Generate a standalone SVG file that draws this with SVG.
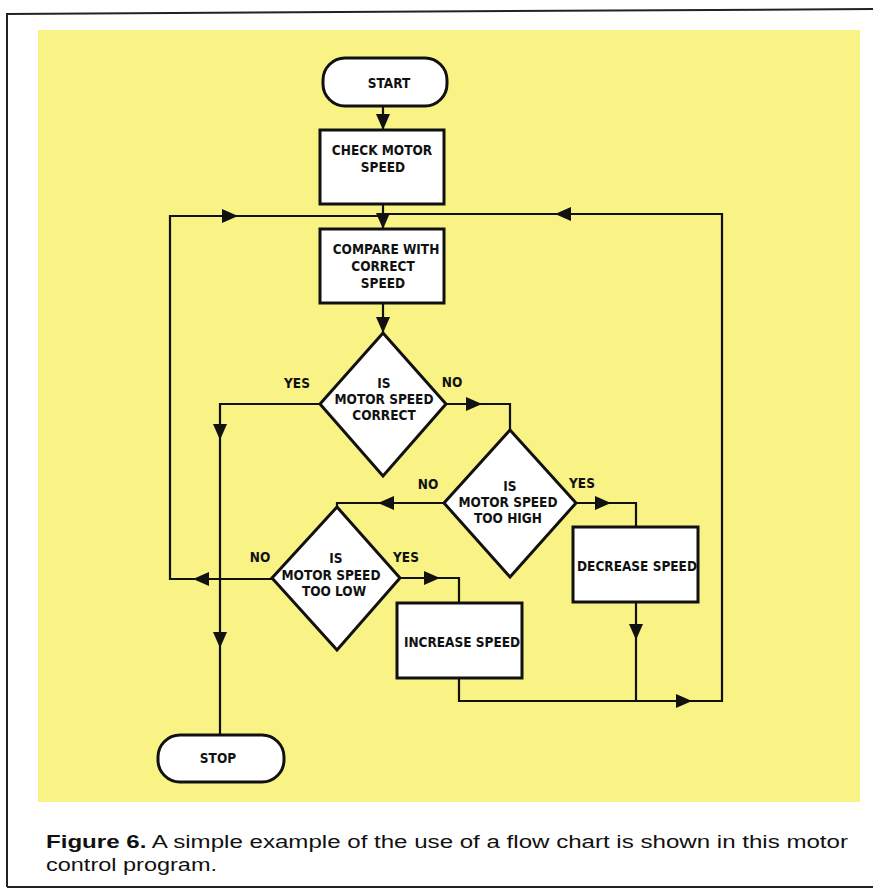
<svg xmlns="http://www.w3.org/2000/svg" xmlns:xlink="http://www.w3.org/1999/xlink" width="873" height="892" viewBox="0 0 873 892">
<style>
.shape{fill:#ffffff;stroke:#111;stroke-width:3;stroke-linejoin:miter}
.conn{fill:none;stroke:#111;stroke-width:2.2;stroke-linejoin:miter}
.t{font-family:"DejaVu Sans Condensed","DejaVu Sans",sans-serif;font-size:13.5px;font-weight:bold;fill:#111;text-anchor:middle}
.lbl{font-family:"DejaVu Sans Condensed","DejaVu Sans",sans-serif;font-size:13.5px;font-weight:bold;fill:#111;text-anchor:middle}
.cap{font-family:"Liberation Sans",Arial,sans-serif;font-size:17.5px;fill:#111}
.frame{fill:none;stroke:#222;stroke-width:2}
</style>
<defs>
<path id="ah" d="M0,0 L-16,-7 L-16,7 Z" fill="#111"/>
</defs>
<rect x="0" y="0" width="873" height="892" fill="#ffffff"/>
<g id="frame">
<line class="frame" x1="6" y1="14" x2="873" y2="9"/>
<line class="frame" x1="7" y1="13" x2="7" y2="887"/>
<line class="frame" x1="7" y1="887" x2="873" y2="887"/>
</g>
<rect id="panel" x="38" y="30" width="822" height="772" fill="#F9F386"/>

<g id="connectors">
<path class="conn" d="M383,106 V130"/>
<path class="conn" d="M383,204 V229"/>
<path class="conn" d="M272,579 H170 V216 H383"/>
<path class="conn" d="M459,678 V701 H722 V214 H383"/>
<path class="conn" d="M636,602 V701"/>
<path class="conn" d="M383,303 V333"/>
<path class="conn" d="M320,404 H220 V735"/>
<path class="conn" d="M446,404 H510 V430"/>
<path class="conn" d="M444,503 H337 V507"/>
<path class="conn" d="M576,503 H636 V527"/>
<path class="conn" d="M400,578 H459 V603"/>
<use xlink:href="#ah" href="#ah" transform="translate(383,130) rotate(90)"/>
<use xlink:href="#ah" href="#ah" transform="translate(383,229) rotate(90)"/>
<use xlink:href="#ah" href="#ah" transform="translate(383,333) rotate(90)"/>
<use xlink:href="#ah" href="#ah" transform="translate(238,216)"/>
<use xlink:href="#ah" href="#ah" transform="translate(555,214) rotate(180)"/>
<use xlink:href="#ah" href="#ah" transform="translate(193,579) rotate(180)"/>
<use xlink:href="#ah" href="#ah" transform="translate(220,440) rotate(90)"/>
<use xlink:href="#ah" href="#ah" transform="translate(220,648) rotate(90)"/>
<use xlink:href="#ah" href="#ah" transform="translate(482,404)"/>
<use xlink:href="#ah" href="#ah" transform="translate(378,503) rotate(180)"/>
<use xlink:href="#ah" href="#ah" transform="translate(611,503)"/>
<use xlink:href="#ah" href="#ah" transform="translate(440,578)"/>
<use xlink:href="#ah" href="#ah" transform="translate(636,640) rotate(90)"/>
<use xlink:href="#ah" href="#ah" transform="translate(692,701)"/>
</g>

<g id="start">
<rect class="shape" x="323" y="58" width="124" height="48" rx="22"/>
<text class="t" x="389" y="88">START</text>
</g>
<g id="check">
<rect class="shape" x="320" y="130" width="124" height="74"/>
<text class="t" x="382" y="155">CHECK MOTOR</text>
<text class="t" x="383" y="172">SPEED</text>
</g>
<g id="compare">
<rect class="shape" x="320" y="229" width="124" height="74"/>
<text class="t" x="386" y="254">COMPARE WITH</text>
<text class="t" x="383" y="271">CORRECT</text>
<text class="t" x="383" y="288">SPEED</text>
</g>
<g id="d1">
<polygon class="shape" points="383,333 446,404 383,476 320,404"/>
<text class="t" x="384" y="388">IS</text>
<text class="t" x="384" y="404">MOTOR SPEED</text>
<text class="t" x="384" y="420">CORRECT</text>
</g>
<g id="d2">
<polygon class="shape" points="510,430 576,503 510,577 444,503"/>
<text class="t" x="510" y="491">IS</text>
<text class="t" x="508" y="507">MOTOR SPEED</text>
<text class="t" x="508" y="523">TOO HIGH</text>
</g>
<g id="d3">
<polygon class="shape" points="337,507 400,578 337,650 272,578"/>
<text class="t" x="336" y="563">IS</text>
<text class="t" x="331" y="580">MOTOR SPEED</text>
<text class="t" x="334" y="596">TOO LOW</text>
</g>
<g id="decrease">
<rect class="shape" x="573" y="527" width="125" height="75"/>
<text class="t" x="637" y="571">DECREASE SPEED</text>
</g>
<g id="increase">
<rect class="shape" x="397" y="603" width="125" height="75"/>
<text class="t" x="462" y="647">INCREASE SPEED</text>
</g>
<g id="stop">
<rect class="shape" x="158" y="735" width="126" height="47" rx="22"/>
<text class="t" x="218" y="763">STOP</text>
</g>

<g id="labels">
<text class="lbl" x="297" y="388">YES</text>
<text class="lbl" x="452" y="387">NO</text>
<text class="lbl" x="428" y="489">NO</text>
<text class="lbl" x="582" y="488">YES</text>
<text class="lbl" x="260" y="562">NO</text>
<text class="lbl" x="406" y="562">YES</text>
</g>

<g id="caption">
<text class="cap" x="46" y="848" textLength="802" lengthAdjust="spacingAndGlyphs"><tspan font-weight="bold">Figure 6.</tspan> A simple example of the use of a flow chart is shown in this motor</text>
<text class="cap" x="46" y="871" textLength="171" lengthAdjust="spacingAndGlyphs">control program.</text>
</g>
</svg>
